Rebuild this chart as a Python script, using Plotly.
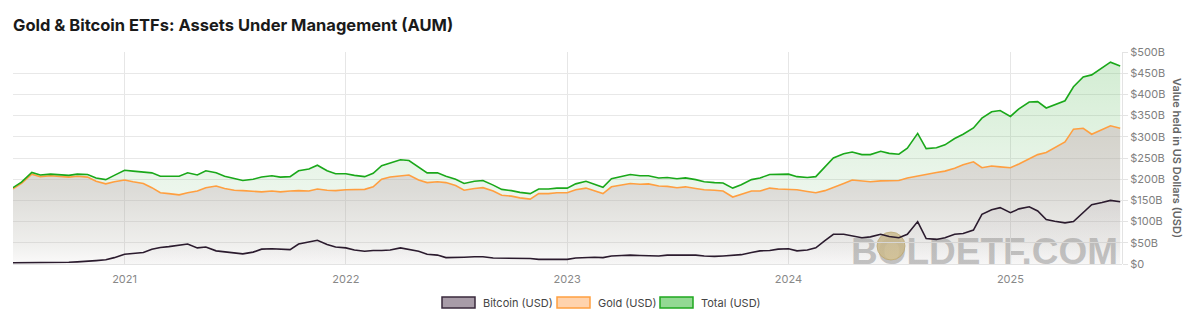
import pandas as pd
import plotly.graph_objects as go

# semimonthly observation dates (1st and 15th), Jul 2020 .. Jul 2025
dates = pd.date_range("2020-07-01", "2025-07-01", freq="SMS")

gold_usd_b = [
    # 2020 (Jul-Dec)
    177, 190, 212, 206, 208, 207, 205, 207, 205, 195, 189, 194,
    # 2021
    198, 194, 190, 180, 168, 166, 163, 168, 172, 180, 184, 178,
    174, 173, 172, 170, 172, 170, 172, 173, 172, 177, 174, 173,
    # 2022
    175, 176, 176, 182, 200, 205, 208, 210, 198, 192, 194, 192,
    185, 174, 178, 180, 172, 162, 160, 156, 153, 166, 166, 168,
    # 2023
    168, 175, 179, 172, 166, 182, 187, 190, 188, 189, 184, 183,
    180, 182, 178, 175, 174, 172, 158, 165, 172, 172, 179, 177,
    # 2024
    176, 175, 171, 168, 173, 180, 190, 198, 196, 194, 196, 196,
    197, 203, 208, 212, 216, 219, 226, 234, 241, 227, 231, 229,
    # 2025 (Jan - Jul 1)
    227, 236, 247, 258, 263, 275, 288, 318, 320, 306, 318, 326, 320,
]

bitcoin_usd_b = [
    # 2020 (Jul-Dec)
    3, 3, 4, 4, 4, 4, 4, 5, 6, 8, 10, 15,
    # 2021
    23, 25, 27, 35, 39, 41, 44, 47, 38, 40, 31, 29,
    27, 24, 28, 35, 36, 35, 34, 47, 52, 56, 46, 40,
    # 2022
    38, 33, 30, 32, 32, 33, 38, 34, 30, 23, 21, 15,
    15, 16, 17, 17, 14, 14, 13, 13, 13, 11, 11, 11,
    # 2023
    11, 14, 16, 16, 15, 19, 20, 21, 20, 19, 19, 21,
    21, 21, 21, 19, 18, 19, 21, 22, 27, 31, 32, 35,
    # 2024
    36, 31, 33, 38, 55, 70, 70, 66, 62, 64, 70, 65,
    62, 70, 100, 60, 58, 62, 70, 72, 80, 117, 128, 133,
    # 2025 (Jan - Jul 1)
    121, 130, 135, 125, 105, 101, 97, 100, 121, 140, 145, 150, 147,
]

total_usd_b = [g + b for g, b in zip(gold_usd_b, bitcoin_usd_b)]

y_tick_values = [0, 50, 100, 150, 200, 250, 300, 350, 400, 450, 500]
y_tick_labels = ["$0", "$50B", "$100B", "$150B", "$200B", "$250B",
                 "$300B", "$350B", "$400B", "$450B", "$500B"]

series_names = ["Bitcoin (USD)", "Gold (USD)", "Total (USD)"]

# ---- geometry helpers (pixel -> paper) ----
W, H = 1200, 329
ML, MR, MT, MB = 13, 78, 52, 65
PW, PH = W - ML - MR, H - MT - MB


def px(x):
    return (x - ML) / PW


def py(y):
    return (H - MB - y) / PH


FONT = "Inter"

fig = go.Figure()

fig.add_trace(go.Scatter(
    x=dates, y=gold_usd_b, name=series_names[1], mode="lines",
    line=dict(color="#ff9f40", width=1.6),
    fill="tozeroy",
    fillgradient=dict(
        type="vertical", start=0, stop=500,
        colorscale=[[0, "rgba(175,172,165,0.06)"], [0.1, "rgba(172,170,160,0.20)"],
                    [0.34, "rgba(170,168,158,0.40)"], [0.6, "rgba(168,165,150,0.48)"],
                    [1, "rgba(165,160,145,0.55)"]]),
    showlegend=False, hoverinfo="skip",
))

fig.add_trace(go.Scatter(
    x=dates, y=total_usd_b, name=series_names[2], mode="lines",
    line=dict(color="#1aa81a", width=1.6),
    fill="tonexty",
    fillgradient=dict(
        type="vertical", start=0, stop=500,
        colorscale=[[0, "rgba(110,180,110,0.05)"], [0.4, "rgba(105,185,105,0.14)"],
                    [0.6, "rgba(100,188,100,0.19)"], [0.9, "rgba(100,190,100,0.27)"],
                    [1, "rgba(100,190,100,0.30)"]]),
    showlegend=False, hoverinfo="skip",
))

fig.add_trace(go.Scatter(
    x=dates, y=bitcoin_usd_b, name=series_names[0], mode="lines",
    line=dict(color="#2b1b2e", width=1.6),
    fill="tozeroy",
    fillgradient=dict(
        type="vertical", start=0, stop=500,
        colorscale=[[0, "rgba(90,70,90,0.02)"], [1, "rgba(90,70,90,0.15)"]]),
    showlegend=False, hoverinfo="skip",
))

shapes = []
annotations = []

# watermark
shapes.append(dict(
    type="rect", xref="paper", yref="paper", layer="between",
    x0=px(844), x1=px(1125), y0=py(266), y1=py(228),
    line=dict(width=0), fillcolor="rgba(0,0,0,0)",
    label=dict(text="BOLDETF.COM", textposition="middle center",
               font=dict(family="Liberation Sans", size=37, weight="bold",
                         color="rgba(140,140,140,0.50)")),
))
shapes.append(dict(
    type="circle", xref="paper", yref="paper", layer="between",
    xsizemode="pixel", ysizemode="pixel",
    xanchor=px(891), yanchor=py(246), x0=-14, x1=14, y0=-14, y1=14,
    line=dict(width=1, color="rgba(190,165,100,0.7)"),
    fillcolor="rgba(212,192,140,0.88)",
))

# custom legend
legend_items = [
    (series_names[0], 442, "rgba(168,156,168,1)", "#3a2a3d"),
    (series_names[1], 557, "#ffd3ad", "#ffa040"),
    (series_names[2], 660, "#93d993", "#1fa81f"),
]
for name, x0, fc, lc in legend_items:
    shapes.append(dict(
        type="rect", xref="paper", yref="paper", layer="above",
        x0=px(x0), x1=px(x0 + 33), y0=py(308), y1=py(297),
        line=dict(width=1.5, color=lc), fillcolor=fc,
    ))
    annotations.append(dict(
        x=px(x0 + 39), y=py(302.5), xref="paper", yref="paper",
        xanchor="left", yanchor="middle", showarrow=False, text=name,
        font=dict(family=FONT, size=11, color="#444444"),
    ))

# right axis title (reads top to bottom)
annotations.append(dict(
    x=px(1177), y=py(158), xref="paper", yref="paper",
    xanchor="center", yanchor="middle", showarrow=False,
    text="Value held in US Dollars (USD)", textangle=90,
    font=dict(family=FONT, size=11, color="#666666", weight=600),
))

fig.update_layout(
    width=W, height=H,
    margin=dict(l=ML, r=MR, t=MT, b=MB, pad=0),
    paper_bgcolor="white", plot_bgcolor="white",
    title=dict(text="Gold & Bitcoin ETFs: Assets Under Management (AUM)",
               x=ML / W, xanchor="left", y=1 - 25 / H, yanchor="middle",
               font=dict(family=FONT, size=16.5, weight="bold", color="#1a1a1a")),
    xaxis=dict(
        type="date", range=["2020-07-01", "2025-07-04"],
        dtick="M12", tick0="2021-01-01", tickformat="%Y",
        showgrid=True, gridcolor="#e6e6e6", gridwidth=1,
        showline=False, ticks="", zeroline=False, ticklabelstandoff=7,
        tickfont=dict(family=FONT, size=11, color="#888888"),
    ),
    yaxis=dict(
        side="right", range=[0, 500],
        tickvals=y_tick_values, ticktext=y_tick_labels,
        showgrid=True, gridcolor="#e8e8e8", gridwidth=1,
        zeroline=True, zerolinecolor="#e3e3e3", zerolinewidth=1,
        showline=True, linecolor="#e3e3e3", linewidth=1,
        ticks="outside", ticklen=5, tickcolor="#e3e3e3",
        tickfont=dict(family=FONT, size=11, color="#808080"),
    ),
    shapes=shapes, annotations=annotations,
    showlegend=False, hovermode=False,
)

fig.write_html("out.html")
